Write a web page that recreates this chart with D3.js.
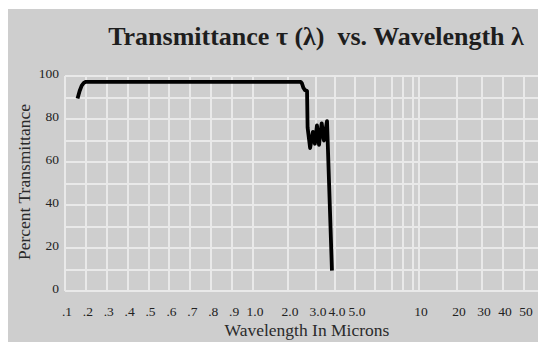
<!doctype html>
<html>
<head>
    <meta charset="utf-8">
    <style>
        body { margin: 0; background: #fff; }
        svg { display: block; }
        .grid line { stroke: #e9e9e9; stroke-width: 1.6; shape-rendering: crispEdges; }
        .title { font-family: "Liberation Serif", serif; font-weight: bold; font-size: 26px; fill: #1e1e1e; white-space: pre; }
        .tick-label { font-family: "Liberation Serif", serif; font-size: 13.5px; fill: #222; }
        .axis-title { font-family: "Liberation Serif", serif; font-size: 17.5px; fill: #2a2a2a; }
        path.line { fill: none; stroke: #000; stroke-width: 3.8; stroke-linejoin: round; }
    </style>
</head>
<body>
    <svg id="chart"></svg>
    <script src="https://cdnjs.cloudflare.com/ajax/libs/d3/7.8.5/d3.min.js"></script>
    <script>
        // grid lines along x (microns) and the ones that get a label
        var gridX = [0.1, 0.2, 0.3, 0.4, 0.5, 0.6, 0.7, 0.8, 0.9, 1.0, 2, 3, 4, 5, 6, 7, 8, 9, 10, 20, 30, 40, 50];
        var tickX = [0.1, 0.2, 0.3, 0.4, 0.5, 0.6, 0.7, 0.8, 0.9, 1.0, 2, 3, 4, 5, 10, 20, 30, 40, 50];
        var tickXLabels = ['.1', '.2', '.3', '.4', '.5', '.6', '.7', '.8', '.9', '1.0', '2.0', '3.0', '4.0', '5.0', '10', '20', '30', '40', '50'];
        var gridY = [0, 10, 20, 30, 40, 50, 60, 70, 80, 90, 100];
        var tickY = [0, 20, 40, 60, 80, 100];

        // transmittance curve
        var wavelength = [0.16, 0.17, 0.18, 0.19, 0.2, 0.5, 1.0, 2.0, 2.45, 2.5, 2.55, 2.6, 2.68, 2.7, 2.79, 2.89, 2.96, 3.05, 3.16, 3.3, 3.42, 3.58, 3.84];
        var transmittance = [89.5, 93, 95.5, 96.8, 97.3, 97.3, 97.3, 97.3, 97.3, 96.5, 94.5, 93.5, 93, 76, 66.5, 74, 68.5, 77, 68, 78, 70, 79, 9.5];

        var width = 538, height = 342;
        var svg = d3.select('#chart').attr('width', width).attr('height', height);

        svg.append('rect')
            .attr('x', 8).attr('y', 9)
            .attr('width', width - 8).attr('height', height - 9)
            .attr('fill', '#cecece');

        // the original axis is stretched by hand, so piecewise linear
        var x = d3.scaleLinear()
            .domain([0.1, 1, 2, 3, 4, 5, 6, 7, 8, 9, 10, 20, 30, 40, 50])
            .range([65, 253, 288, 316, 335, 355, 375, 392, 403, 413, 419, 457, 482, 503, 524]);
        var y = d3.scaleLinear().domain([0, 100]).range([291, 76]);

        var grid = svg.append('g').attr('class', 'grid');
        grid.selectAll('line.h').data(gridY).enter().append('line')
            .attr('class', 'h')
            .attr('x1', x(0.1)).attr('x2', width)
            .attr('y1', function(d) { return Math.round(y(d)); })
            .attr('y2', function(d) { return Math.round(y(d)); });
        grid.selectAll('line.v').data(gridX).enter().append('line')
            .attr('class', 'v')
            .attr('x1', function(d) { return Math.round(x(d)); })
            .attr('x2', function(d) { return Math.round(x(d)); })
            .attr('y1', y(100)).attr('y2', y(0));

        svg.append('g').selectAll('text').data(tickY).enter().append('text')
            .attr('class', 'tick-label')
            .attr('x', 59)
            .attr('y', function(d) { return y(d); })
            .attr('dy', '0.15em')
            .attr('text-anchor', 'end')
            .text(function(d) { return d; });

        svg.append('g').selectAll('text').data(tickX).enter().append('text')
            .attr('class', 'tick-label')
            .attr('x', function(d) { return x(d) + 2; })
            .attr('y', 316)
            .attr('text-anchor', 'middle')
            .text(function(d, i) { return tickXLabels[i]; });

        var line = d3.line()
            .x(function(d) { return x(d); })
            .y(function(d, i) { return y(transmittance[i]); });
        svg.append('path')
            .attr('class', 'line')
            .attr('d', line(wavelength));

        svg.append('text')
            .attr('class', 'title')
            .attr('x', 316).attr('y', 45)
            .attr('text-anchor', 'middle')
            .text('Transmittance \u03c4 (\u03bb)  vs. Wavelength \u03bb');

        svg.append('text')
            .attr('class', 'axis-title')
            .attr('x', 307).attr('y', 336)
            .attr('text-anchor', 'middle')
            .text('Wavelength In Microns');

        svg.append('text')
            .attr('class', 'axis-title')
            .attr('transform', 'translate(30,182) rotate(-90)')
            .attr('text-anchor', 'middle')
            .text('Percent Transmittance');
    </script>
</body>
</html>
